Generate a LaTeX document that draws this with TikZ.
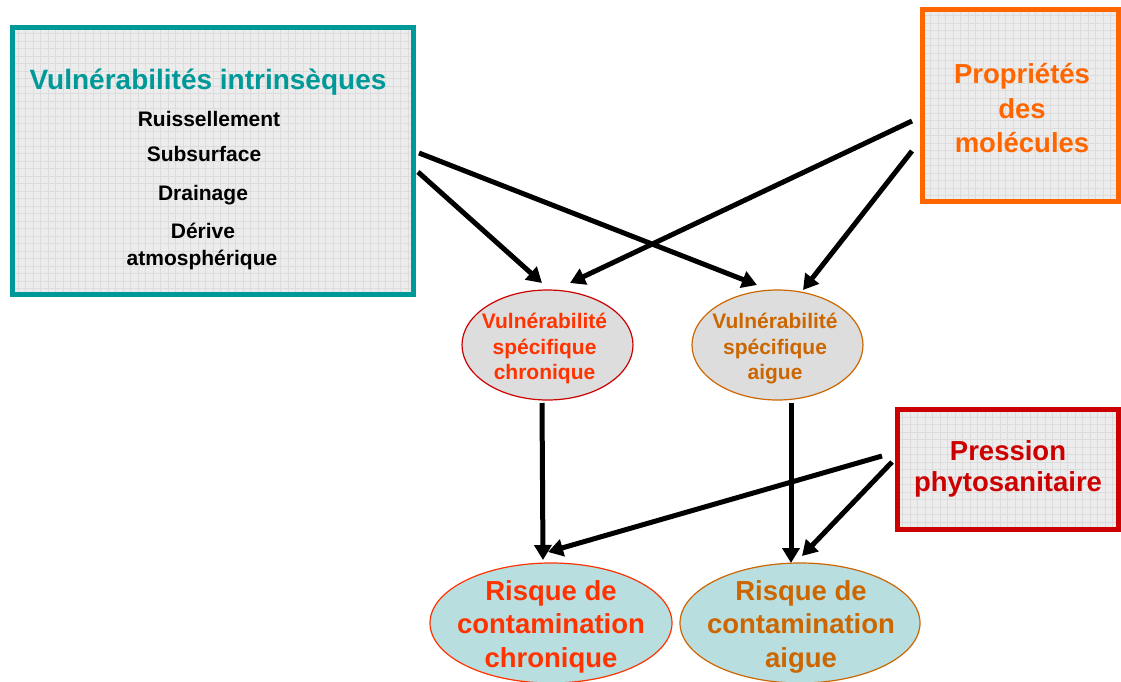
\documentclass[tikz,border=0pt]{standalone}
\usepackage{fontspec}
\setmainfont{Liberation Sans}
\usetikzlibrary{arrows.meta,shapes.geometric}
\definecolor{tealc}{RGB}{0,153,153}
\definecolor{orangec}{RGB}{255,102,0}
\definecolor{redc}{RGB}{204,0,0}
\definecolor{redtext}{RGB}{255,51,0}
\definecolor{brownc}{RGB}{204,102,0}
\definecolor{boxfill}{RGB}{236,236,236}
\definecolor{gridc}{RGB}{220,220,220}
\definecolor{midfill}{RGB}{221,221,221}
\definecolor{lowfill}{RGB}{184,222,224}
\begin{document}
\begin{tikzpicture}[x=1pt,y=-1pt,
  framebox/.style={rectangle, inner sep=0pt, line width=5pt, fill=boxfill,
    path picture={\draw[gridc, line width=0.7pt, step=7.5pt]
      (path picture bounding box.south west) grid (path picture bounding box.north east);}},
  ell/.style={ellipse, inner sep=0pt, line width=1.2pt},
  tTitle/.style={anchor=base, inner sep=0pt, font=\bfseries\fontsize{28}{33}\selectfont},
  tItem/.style={anchor=base, inner sep=0pt, font=\bfseries\fontsize{21}{25}\selectfont},
  tBig/.style={anchor=base, inner sep=0pt, font=\bfseries\fontsize{27.5}{32}\selectfont},
  tMid/.style={anchor=base, inner sep=0pt, font=\bfseries\fontsize{21}{25}\selectfont},
  arr/.style={line width=5pt, -{Triangle[length=15pt,width=17pt]}},
]
\fill[white] (0,0) rectangle (1121,682);
\useasboundingbox (0,0) rectangle (1121,682);

% boxes
\node[framebox, draw=tealc, minimum width=401, minimum height=267] (vi) at (213,161) {};
\node[framebox, draw=orangec, minimum width=196, minimum height=191] (pm) at (1020.5,105.5) {};
\node[framebox, draw=redc, minimum width=221.5, minimum height=120] (pp) at (1007.75,469.5) {};

% ellipses
\node[ell, draw=redc, fill=midfill, minimum width=171, minimum height=110] (vsc) at (547.5,345) {};
\node[ell, draw=brownc, fill=midfill, minimum width=171, minimum height=110] (vsa) at (777.5,345) {};
\node[ell, draw=redtext, fill=lowfill, minimum width=242, minimum height=120] (rcc) at (551,623) {};
\node[ell, draw=brownc, fill=lowfill, minimum width=240, minimum height=120] (rca) at (800,623) {};

% texts in left box
\node[tTitle, text=tealc] (t0) at (208,90) {Vulnérabilités intrinsèques};
\node[tItem] (t1) at (209,127) {Ruissellement};
\node[tItem] (t2) at (204,161) {Subsurface};
\node[tItem] (t3) at (203,200) {Drainage};
\node[tItem] (t4) at (203,238) {Dérive};
\node[tItem] (t5) at (202,265) {atmosphérique};

% texts in orange box
\node[tBig, text=orangec] (p1) at (1022,84) {Propriétés};
\node[tBig, text=orangec] (p2) at (1022,118) {des};
\node[tBig, text=orangec] (p3) at (1022,152) {molécules};

% texts in red box
\node[tBig, text=redc] (q1) at (1008,460) {Pression};
\node[tBig, text=redc] (q2) at (1008,491) {phytosanitaire};

% texts in middle ellipses
\node[tMid, text=redtext] (m1) at (544.5,328) {Vulnérabilité};
\node[tMid, text=redtext] (m2) at (544.5,354) {spécifique};
\node[tMid, text=redtext] (m3) at (544.5,379) {chronique};
\node[tMid, text=brownc] (n1) at (775,328) {Vulnérabilité};
\node[tMid, text=brownc] (n2) at (775,354) {spécifique};
\node[tMid, text=brownc] (n3) at (775,379) {aigue};

% texts in bottom ellipses
\node[tBig, text=redtext] (r1) at (551,600) {Risque de};
\node[tBig, text=redtext] (r2) at (551,633) {contamination};
\node[tBig, text=redtext] (r3) at (551,667) {chronique};
\node[tBig, text=brownc] (s1) at (801,600) {Risque de};
\node[tBig, text=brownc] (s2) at (801,633) {contamination};
\node[tBig, text=brownc] (s3) at (801,667) {aigue};

% connector ends
\coordinate (a1s) at (418,172); \coordinate (a1e) at (542,283);
\coordinate (a2s) at (419,153); \coordinate (a2e) at (757,285);
\coordinate (a3s) at (912,121); \coordinate (a3e) at (570,283);
\coordinate (a4s) at (912,151); \coordinate (a4e) at (803,290);
\coordinate (a5s) at (542,403); \coordinate (a5e) at (543,560);
\coordinate (a6s) at (791,403); \coordinate (a6e) at (791,563);
\coordinate (a7s) at (882,456); \coordinate (a7e) at (548,552);
\coordinate (a8s) at (892,462); \coordinate (a8e) at (802,556);

\draw[arr] (a1s) -- (a1e);
\draw[arr] (a2s) -- (a2e);
\draw[arr] (a3s) -- (a3e);
\draw[arr] (a4s) -- (a4e);
\draw[arr] (a5s) -- (a5e);
\draw[arr] (a6s) -- (a6e);
\draw[arr] (a7s) -- (a7e);
\draw[arr] (a8s) -- (a8e);
\end{tikzpicture}
\end{document}
